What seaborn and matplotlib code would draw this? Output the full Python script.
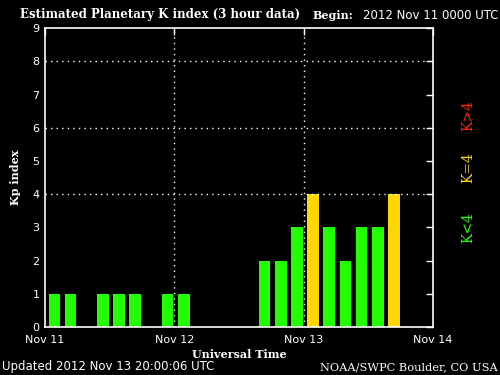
import matplotlib
matplotlib.use("Agg")
import matplotlib.pyplot as plt
import seaborn as sns
import pandas as pd

# Kp values per 3-hour bin, starting 2012 Nov 11 00 UTC
kp_values = [1, 1, 0, 1, 1, 1, 0, 1,
             1, 0, 0, 0, 0, 2, 2, 3,
             4, 3, 2, 3, 3, 4]
day_labels = ["Nov 11", "Nov 12", "Nov 13", "Nov 14"]
level_colors = {"K<4": "#22ff00", "K=4": "#ffd700", "K>4": "#ff2200"}


def level_of(k):
    if k < 4:
        return "K<4"
    if k == 4:
        return "K=4"
    return "K>4"


df = pd.DataFrame({
    "hour": [3 * i + 1.75 for i in range(len(kp_values))],
    "kp": kp_values,
})
df["level"] = df["kp"].apply(level_of)

sns.set_style("dark", {"axes.facecolor": "black", "figure.facecolor": "black"})
plt.rcParams["font.family"] = ["DejaVu Sans"]

fig = plt.figure(figsize=(5, 3.75), dpi=100, facecolor="black")
ax = fig.add_axes([0.09, 0.128, 0.776, 0.797])
ax.set_facecolor("black")

sns.barplot(data=df, x="hour", y="kp", hue="level", palette=level_colors,
            hue_order=list(level_colors), native_scale=True, dodge=False,
            width=0.73, linewidth=0, saturation=1, legend=False, ax=ax)

ax.set_xlim(0, 72)
ax.set_ylim(0, 9)

# dotted reference lines
for y in [4, 6, 8]:
    ax.axhline(y, color="white", linestyle=(0, (1, 3)), linewidth=1)
for x in [24, 48]:
    ax.axvline(x, color="white", linestyle=(0, (1, 3)), linewidth=1)

for s in ax.spines.values():
    s.set_color("white")
    s.set_linewidth(1.2)
    s.set_visible(True)

ax.set_xticks([0, 24, 48, 72])
ax.set_xticklabels(day_labels)
ax.set_xticks(df["hour"], minor=True)
ax.set_yticks(range(10))
ax.tick_params(axis="both", which="major", direction="in", colors="white",
               length=5, width=1, labelsize=8)
ax.tick_params(axis="x", which="major", top=True, pad=6)
ax.tick_params(axis="y", which="major", right=True, pad=4)
ax.tick_params(axis="x", which="minor", direction="in", color="black",
               length=4, width=1, bottom=True)

ax.set_xlabel("Universal Time", color="white", family="DejaVu Serif",
              fontweight="bold", fontsize=8, labelpad=3)
ax.set_ylabel("Kp index", color="white", family="DejaVu Serif",
              fontweight="bold", fontsize=8, labelpad=8)
ax.grid(False)

fig.text(0.04, 0.962, "Estimated Planetary K index (3 hour data)", color="white",
         family="DejaVu Serif", fontweight="bold", fontsize=8.5, va="center")
fig.text(0.626, 0.958, "Begin:", color="white", family="DejaVu Serif",
         fontweight="bold", fontsize=8, va="center")
fig.text(0.726, 0.958, "2012 Nov 11 0000 UTC", color="white", fontsize=8.5,
         va="center")
fig.text(0.004, 0.022, "Updated 2012 Nov 13 20:00:06 UTC", color="white",
         fontsize=8.5, va="center")
fig.text(0.996, 0.022, "NOAA/SWPC Boulder, CO USA", color="white",
         family="DejaVu Serif", fontsize=8.2, ha="right", va="center")

for label, y in [("K<4", 0.392), ("K=4", 0.552), ("K>4", 0.693)]:
    fig.text(0.936, y, label, color=level_colors[label], family="DejaVu Serif",
             fontsize=10, rotation=90, ha="center", va="center")

fig.savefig("out.png", dpi=100, facecolor="black")
